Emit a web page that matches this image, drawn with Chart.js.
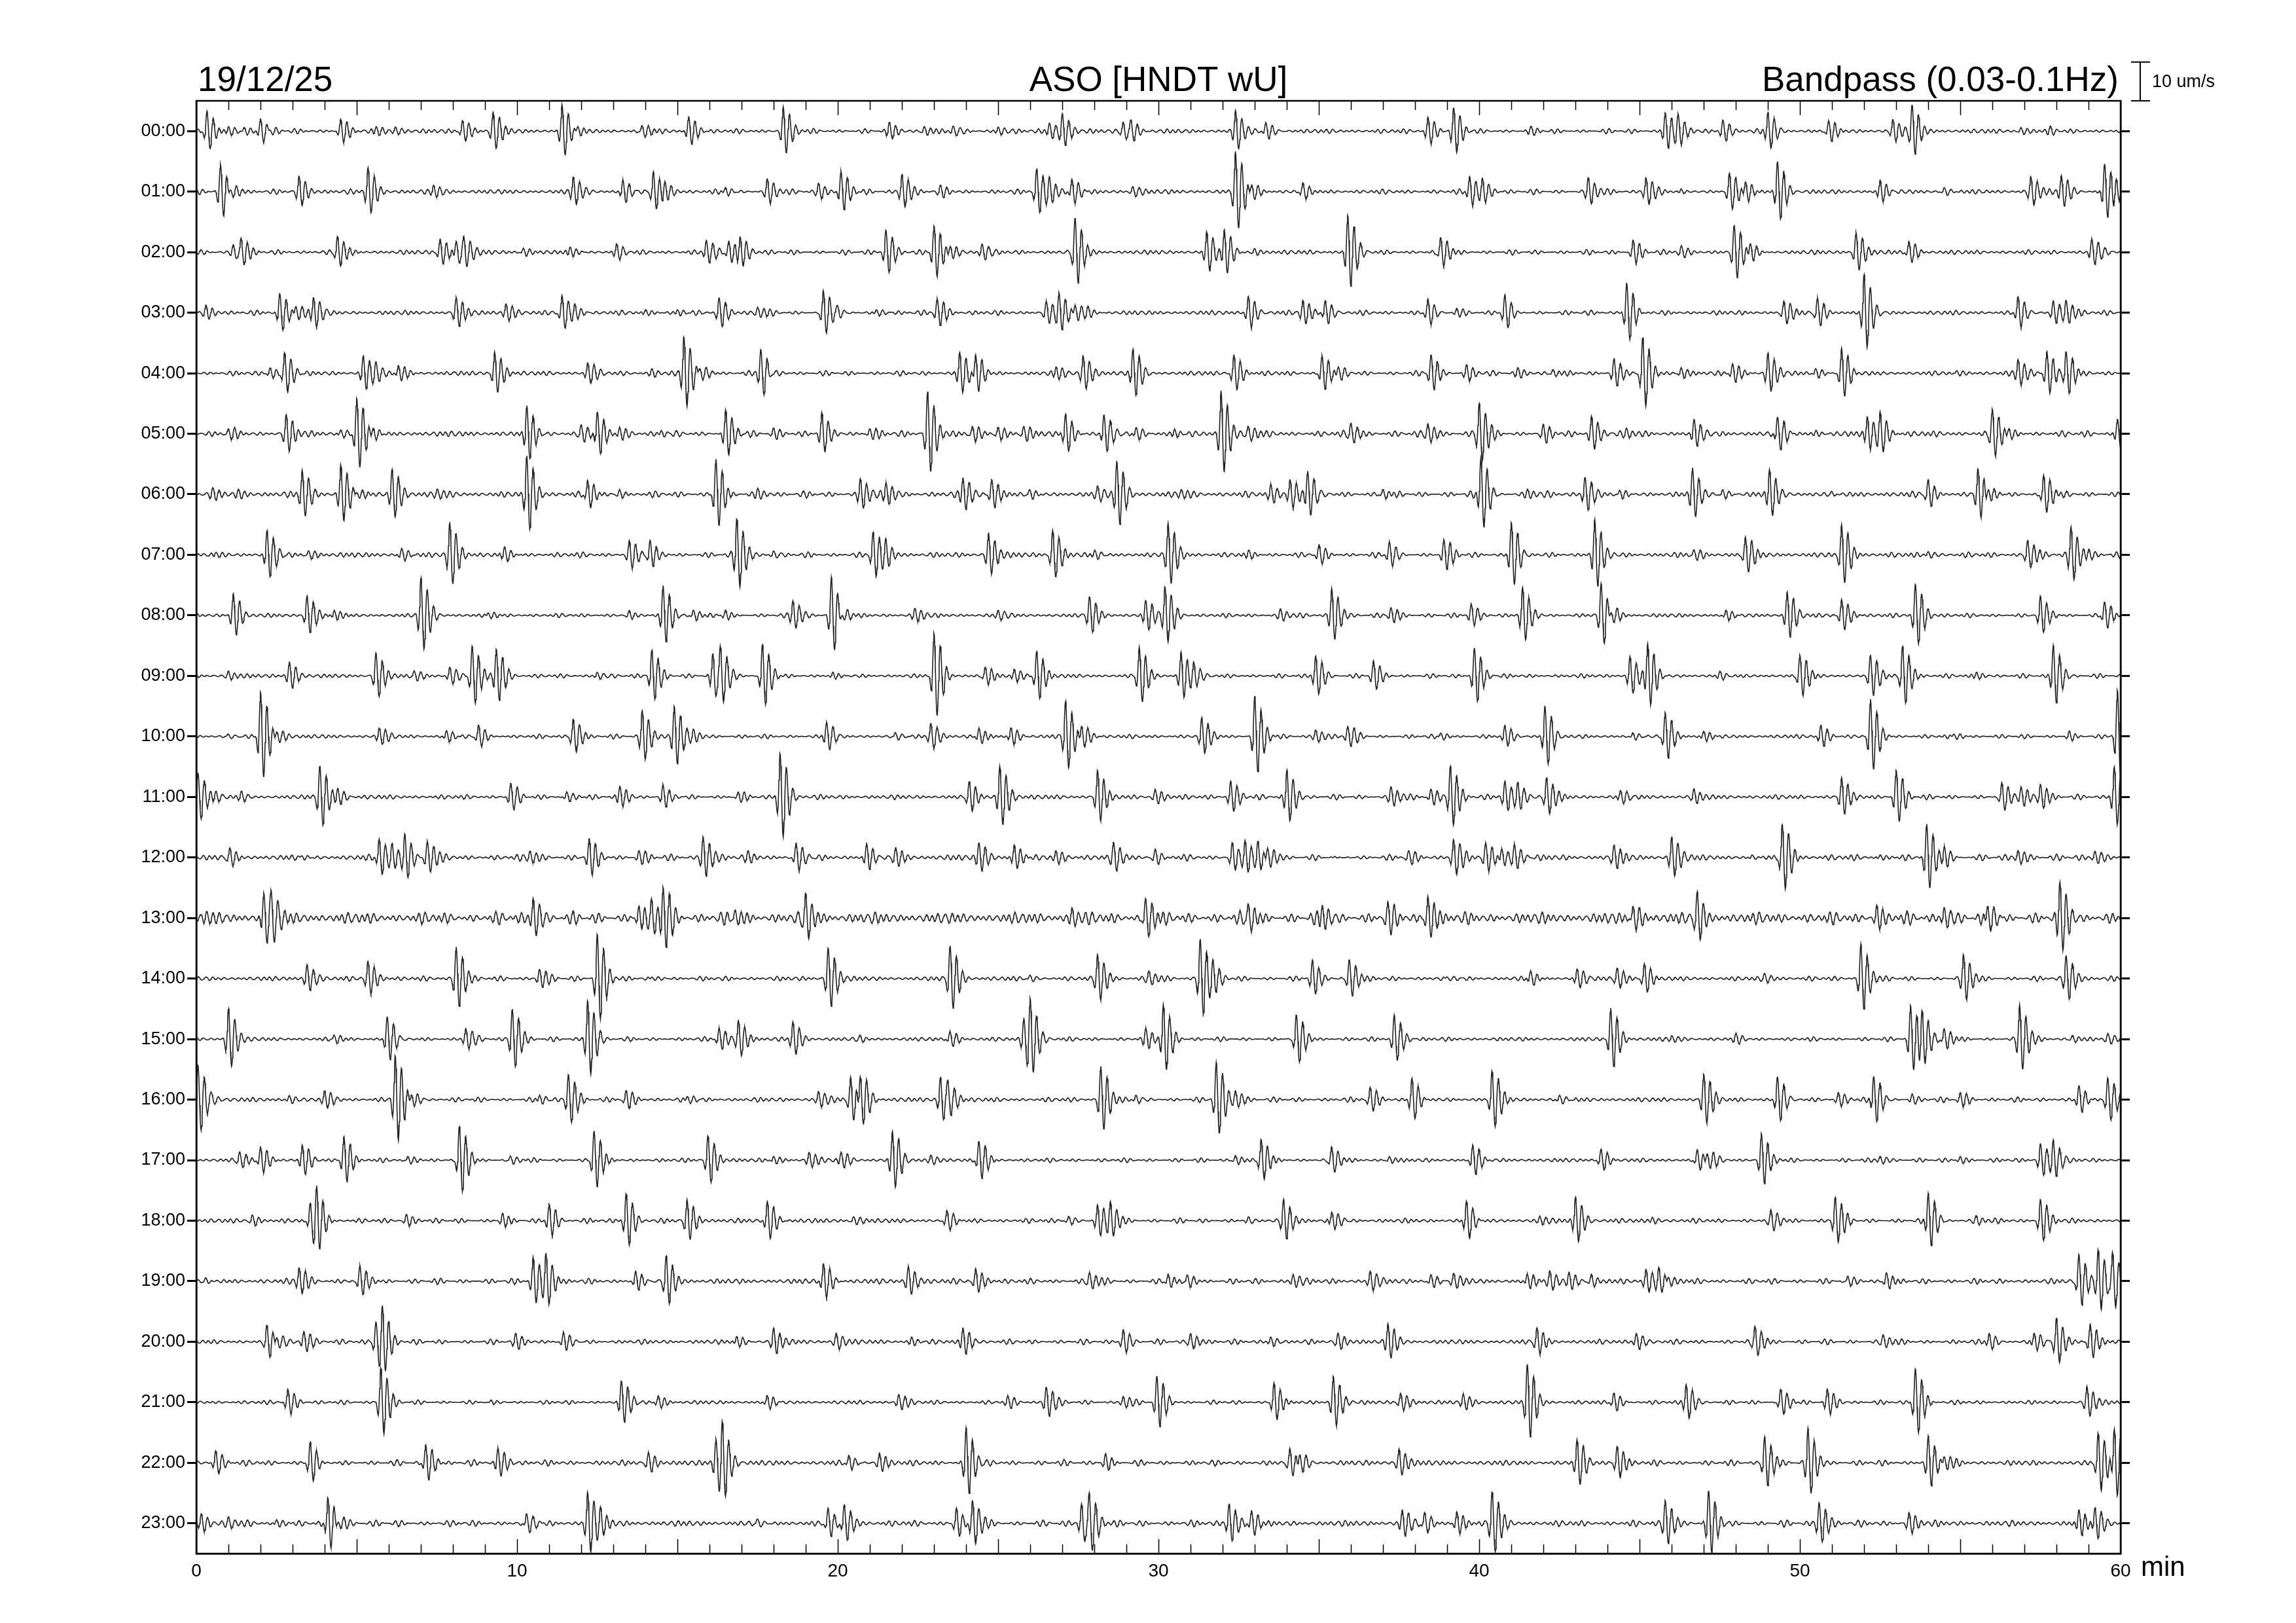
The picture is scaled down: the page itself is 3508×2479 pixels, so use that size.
<!DOCTYPE html>
<html>
<head>
<meta charset="utf-8">
<title>ASO [HNDT wU]</title>
<script src="https://cdn.jsdelivr.net/npm/chart.js@4.4.1/dist/chart.umd.min.js"></script>
<style>
  html, body { margin: 0; padding: 0; background: #fff; }
  canvas { display: block; }
</style>
</head>
<body>
<canvas id="heli" width="3508" height="2479"></canvas>
<script>
// hour rows of the helicorder (top to bottom)
const hourLabels = ['00:00','01:00','02:00','03:00','04:00','05:00','06:00','07:00','08:00','09:00','10:00','11:00',
  '12:00','13:00','14:00','15:00','16:00','17:00','18:00','19:00','20:00','21:00','22:00','23:00'];
const minuteTicks = [0, 10, 20, 30, 40, 50, 60];

// background wiggle level of each row, um/s
const noiseLevel = [0.7,0.7,0.7,0.7,0.7,0.9,0.9,0.8,0.6,0.6,0.6,0.7,0.9,1.8,0.7,0.6,0.7,0.6,0.7,0.8,0.7,0.6,0.8,0.9];

// wave packets: [minute, peak amplitude in um/s]
const h00 = [[0.33,5.1],[1.0,1.2],[1.5,1.0],[2.0,3.2],[2.3,1.5],[4.5,3.1],[5.6,1.2],[6.2,1.1],[8.3,2.9],[9.25,4.6],[11.4,6.6],[11.9,1.5],[13.9,1.5],[15.35,4.0],[18.3,6.3],[21.6,2.2],[22.7,1.2],[23.6,1.2],[25.0,1.0],[26.6,2.0],[27.0,4.1],[28.9,2.4],[29.15,2.8],[32.4,5.3],[33.35,2.4],[38.4,3.5],[39.2,5.9],[41.6,1.0],[45.8,4.8],[46.2,3.5],[47.6,2.8],[49.0,4.6],[50.9,2.6],[52.9,3.2],[53.5,6.5],[56.9,1.0],[57.8,1.0]];
const h01 = [[0.75,7.0],[1.05,3.2],[3.2,3.6],[5.35,6.1],[7.4,1.4],[11.75,4.0],[13.3,3.2],[14.25,4.8],[14.6,2.0],[16.5,1.2],[17.8,3.0],[19.4,1.8],[20.1,5.7],[22.0,4.4],[23.2,1.0],[26.2,5.6],[26.6,2.5],[27.3,3.6],[29.2,1.2],[32.4,10.0],[32.9,2.8],[34.5,2.6],[39.7,4.0],[40.1,3.0],[43.4,3.2],[45.2,3.6],[46.3,1.2],[47.8,4.6],[48.3,3.0],[49.3,8.0],[52.5,3.2],[54.5,1.2],[57.2,3.6],[58.15,4.4],[59.5,7.6],[59.85,2.5]];
const h02 = [[1.15,1.8],[1.4,3.6],[4.4,4.3],[7.6,3.6],[8.1,3.2],[8.35,3.6],[10.2,1.0],[11.65,1.6],[13.1,1.8],[15.9,3.2],[16.6,2.8],[16.95,3.7],[21.5,5.7],[23.0,7.0],[23.5,2.0],[24.5,2.0],[27.4,8.9],[31.5,5.0],[32.05,6.2],[33.0,1.0],[35.9,9.8],[38.8,4.0],[44.8,3.2],[46.3,1.5],[47.95,6.6],[48.45,2.8],[51.75,4.9],[53.4,2.8],[59.1,3.6]];
const h03 = [[0.3,1.6],[2.6,5.3],[3.1,2.0],[3.65,3.8],[8.1,3.6],[9.65,2.4],[11.4,4.7],[11.8,1.5],[14.0,1.0],[15.0,1.0],[16.3,3.6],[17.5,1.3],[19.55,5.9],[20.0,1.8],[21.2,1.0],[23.1,3.6],[26.5,2.5],[26.9,4.6],[27.4,2.8],[27.8,1.2],[32.8,4.4],[34.5,3.0],[35.2,3.2],[38.4,3.6],[39.3,1.0],[40.8,4.6],[44.6,7.6],[49.5,2.8],[50.55,3.6],[52.0,10.3],[56.8,4.4],[57.9,2.8],[58.3,2.6]];
const h04 = [[2.3,1.5],[2.75,5.6],[5.2,4.4],[5.6,1.8],[6.3,2.4],[9.3,5.7],[12.2,2.8],[14.2,1.0],[15.2,9.6],[15.7,2.4],[17.6,6.2],[17.9,2.0],[23.8,5.3],[24.3,5.3],[26.8,1.5],[27.65,4.4],[29.2,6.0],[32.35,4.8],[35.1,4.6],[35.6,1.5],[38.5,4.8],[39.6,2.0],[41.2,1.2],[42.3,1.0],[44.2,3.6],[45.1,9.4],[46.3,1.5],[47.9,2.8],[49.0,5.2],[50.5,1.2],[51.3,6.4],[54.9,1.0],[56.8,3.6],[57.7,5.6],[58.3,5.6]];
const h05 = [[1.0,1.0],[2.8,4.4],[4.5,1.2],[5.0,9.0],[5.5,2.0],[10.3,7.5],[12.0,2.0],[12.5,6.2],[13.2,1.5],[14.5,1.0],[16.5,6.6],[18.0,1.2],[19.5,5.9],[21.0,1.2],[22.8,10.5],[24.2,1.5],[25.0,1.5],[25.8,1.5],[27.1,5.0],[28.3,5.6],[29.3,1.8],[30.5,1.5],[31.95,10.8],[32.8,1.6],[36.0,2.4],[38.4,2.4],[40.0,7.8],[42.0,1.8],[43.5,4.8],[44.6,1.0],[46.7,4.4],[49.3,4.8],[50.5,1.0],[52.1,4.8],[52.5,4.8],[56.0,6.0],[56.5,2.0],[59.9,4.0]];
const h06 = [[0.5,1.2],[1.3,1.0],[3.3,5.8],[4.5,7.5],[5.0,1.5],[6.1,6.4],[7.5,1.2],[10.3,9.4],[12.2,3.6],[13.2,1.2],[16.2,9.0],[17.5,1.2],[20.7,3.8],[21.5,2.6],[23.9,4.0],[24.8,4.0],[26.0,1.2],[28.1,1.6],[28.7,8.0],[30.7,1.2],[33.5,2.0],[34.1,3.6],[34.65,6.2],[37.0,1.2],[40.05,9.4],[41.5,1.0],[43.3,4.4],[44.4,1.2],[46.65,7.1],[47.6,1.2],[49.05,6.8],[51.0,1.0],[54.0,3.6],[55.55,6.4],[55.85,3.5],[57.6,5.3]];
const h07 = [[0.6,1.2],[2.2,6.8],[3.5,1.0],[6.4,1.6],[7.9,8.2],[9.6,2.0],[13.5,3.5],[14.15,4.0],[16.85,9.0],[18.0,1.0],[21.1,6.0],[21.5,2.4],[24.7,5.4],[26.7,6.2],[28.0,1.0],[30.3,8.0],[32.8,1.2],[35.0,2.8],[37.2,3.4],[38.9,3.8],[41.0,8.4],[43.6,9.4],[46.7,1.2],[48.3,4.4],[51.3,7.8],[54.0,1.0],[57.1,3.6],[58.45,6.9],[59.0,1.5]];
const h08 = [[1.15,5.6],[3.45,5.0],[4.3,1.6],[7.0,9.6],[9.1,1.0],[13.5,1.6],[14.55,7.8],[15.5,1.4],[16.5,1.4],[18.6,3.6],[19.8,9.6],[20.1,3.6],[22.4,1.6],[25.0,1.0],[27.85,4.6],[29.6,3.6],[30.2,7.4],[33.8,1.4],[35.4,6.8],[37.25,2.0],[39.75,3.0],[41.35,7.4],[43.8,7.8],[44.1,4.0],[47.7,1.5],[49.6,6.0],[51.3,4.4],[53.6,7.8],[57.5,5.4],[59.5,3.6]];
const h09 = [[1.0,1.2],[2.9,3.6],[5.6,5.8],[6.8,1.2],[7.9,2.4],[8.6,7.5],[9.35,7.0],[12.5,1.0],[14.2,6.6],[16.1,6.0],[16.35,7.0],[17.65,8.6],[19.85,1.2],[23.0,11.0],[24.6,2.0],[25.5,2.0],[26.2,6.2],[29.4,7.1],[30.7,6.2],[31.1,2.4],[34.9,5.2],[36.7,4.0],[39.85,7.4],[44.7,5.2],[45.25,8.6],[47.5,1.0],[50.0,5.4],[52.2,5.5],[53.2,7.6],[55.5,1.0],[57.9,7.9]];
const h10 = [[1.0,0.8],[2.0,11.8],[2.5,2.0],[5.7,2.0],[7.8,1.6],[8.8,3.0],[11.75,4.4],[13.9,6.4],[14.9,7.8],[15.5,1.2],[19.65,3.6],[21.8,1.2],[22.9,3.2],[24.4,2.4],[25.4,2.4],[27.1,8.9],[27.6,3.6],[31.35,4.8],[33.0,10.7],[34.9,1.6],[35.9,2.6],[38.8,1.0],[40.8,3.2],[42.05,7.7],[44.8,1.2],[45.8,6.4],[47.0,1.6],[50.65,2.8],[52.2,10.0],[54.8,1.0],[58.4,1.6],[59.9,12.0]];
const h11 = [[0.05,6.0],[0.6,1.2],[1.4,1.2],[3.85,7.8],[4.4,2.0],[9.8,3.6],[11.55,1.6],[13.2,2.8],[14.55,3.6],[16.9,1.2],[18.2,11.3],[24.1,3.6],[25.05,7.8],[28.1,6.7],[29.9,2.0],[32.25,3.8],[34.0,6.9],[37.25,2.4],[38.5,2.0],[39.1,8.0],[40.8,4.0],[41.2,3.0],[42.1,5.1],[44.4,1.6],[46.7,2.0],[51.3,4.8],[53.0,7.0],[56.3,3.6],[56.9,2.5],[57.5,3.2],[59.8,7.8]];
const h12 = [[1.05,2.0],[3.3,0.8],[5.7,5.0],[6.1,3.0],[6.5,5.5],[7.2,4.0],[10.4,1.6],[12.25,5.0],[13.8,1.5],[15.8,5.3],[17.2,1.0],[18.7,4.4],[20.9,4.0],[21.8,2.0],[24.4,3.6],[25.5,3.6],[26.8,1.5],[28.6,3.3],[29.9,2.4],[32.3,4.2],[32.7,3.8],[33.1,4.0],[33.4,3.5],[35.5,1.0],[37.8,1.2],[39.2,4.6],[40.2,3.2],[40.7,2.5],[41.1,3.2],[44.2,2.6],[46.0,5.0],[48.5,1.0],[49.45,8.9],[52.5,1.0],[53.95,8.5],[54.5,2.8],[56.8,1.8],[59.2,1.6]];
const h13 = [[0.3,2.0],[2.1,6.5],[2.35,5.0],[10.5,5.2],[13.8,3.2],[14.2,4.0],[14.55,7.9],[16.8,2.5],[19.0,6.4],[27.3,2.8],[29.6,5.0],[32.8,3.6],[35.1,3.2],[37.15,2.8],[38.4,5.8],[44.8,3.6],[46.8,6.3],[52.4,3.4],[54.5,2.8],[55.85,4.4],[58.1,9.3]];
const h14 = [[3.45,3.6],[5.35,4.6],[8.1,8.0],[10.7,2.4],[12.5,11.2],[14.2,1.0],[19.7,7.7],[23.5,8.2],[26.0,1.0],[28.1,5.9],[29.7,1.6],[31.3,10.2],[31.7,2.4],[34.8,5.0],[35.95,5.0],[39.0,1.0],[41.6,2.0],[43.05,2.4],[44.3,2.4],[45.15,3.7],[48.9,1.0],[51.9,8.6],[55.1,5.6],[58.3,5.7]];
const h15 = [[1.0,7.7],[4.3,1.0],[5.95,6.0],[8.4,2.8],[9.85,7.8],[12.2,10.0],[16.3,3.0],[16.9,4.8],[18.6,4.2],[20.7,1.0],[23.5,2.0],[25.8,5.0],[26.0,7.3],[29.6,2.4],[30.15,9.0],[34.3,6.6],[37.35,6.4],[44.1,8.2],[46.0,1.0],[48.0,1.0],[53.45,8.5],[53.8,7.0],[54.5,2.8],[56.85,8.5],[58.5,1.0],[59.6,1.2]];
const h16 = [[0.05,9.0],[0.5,1.2],[2.9,1.2],[4.0,2.0],[6.2,11.3],[6.7,2.4],[10.7,1.2],[11.6,6.5],[13.4,2.0],[15.3,1.2],[19.4,2.0],[20.4,5.6],[20.7,8.5],[23.2,5.6],[23.45,4.0],[28.2,8.4],[29.3,1.2],[31.8,9.3],[32.4,2.0],[36.6,2.8],[37.9,5.5],[40.4,7.3],[42.5,1.2],[47.0,6.5],[49.3,6.1],[51.2,1.6],[52.3,6.3],[53.5,1.6],[55.0,1.6],[58.7,3.6],[59.6,5.6]];
const h17 = [[1.35,1.8],[2.0,3.6],[3.3,3.6],[4.6,6.1],[6.6,1.2],[8.2,9.2],[9.8,1.2],[12.4,7.7],[15.95,6.1],[18.0,1.2],[19.1,2.0],[20.1,2.0],[21.7,7.3],[22.9,1.2],[24.4,5.3],[32.4,1.2],[33.2,5.5],[35.4,3.6],[37.2,1.0],[39.8,4.1],[43.8,2.8],[46.8,2.9],[47.1,2.9],[48.8,7.0],[52.5,1.0],[55.0,1.0],[57.5,4.2],[57.9,4.2]];
const h18 = [[1.75,1.6],[3.55,5.0],[3.75,5.8],[6.55,1.8],[9.55,2.0],[11.0,4.3],[13.4,7.0],[15.3,5.0],[17.8,5.2],[20.5,1.0],[23.4,2.8],[27.2,1.2],[28.1,3.9],[28.5,3.9],[32.8,1.2],[33.9,5.2],[35.4,2.8],[39.6,5.0],[41.9,1.0],[43.0,6.2],[45.4,1.0],[49.1,2.4],[51.1,6.0],[54.0,7.3],[55.5,1.0],[57.5,5.4]];
const h19 = [[0.3,1.2],[3.2,3.6],[5.1,4.6],[10.5,6.4],[10.9,6.0],[13.7,2.8],[14.65,6.0],[19.55,4.7],[22.2,3.6],[24.3,3.5],[27.85,2.0],[30.3,1.8],[30.9,1.8],[34.2,1.6],[36.6,2.4],[38.5,1.8],[39.2,1.8],[41.5,2.2],[42.2,2.2],[42.8,2.0],[43.5,2.0],[45.2,2.8],[45.6,3.0],[45.9,2.6],[51.5,1.8],[52.7,2.2],[58.7,7.0],[59.3,8.1],[59.75,7.3]];
const h20 = [[2.2,4.2],[2.5,3.0],[3.35,2.7],[5.6,5.0],[5.8,5.9],[9.95,1.8],[11.45,2.9],[16.85,1.6],[18.0,3.3],[19.95,2.0],[22.3,1.2],[23.9,3.7],[28.9,3.1],[31.0,2.0],[33.5,1.2],[35.6,2.0],[37.15,4.4],[41.8,3.2],[44.9,2.3],[48.6,3.7],[52.6,1.6],[55.9,2.0],[57.3,2.4],[58.0,5.7],[59.05,4.7]];
const h21 = [[2.85,3.4],[5.75,9.0],[9.2,1.0],[13.25,6.0],[14.4,1.8],[17.8,2.0],[21.9,2.0],[25.3,1.2],[26.5,4.0],[28.9,1.5],[29.95,6.7],[33.6,5.1],[35.45,6.9],[37.55,2.4],[39.5,2.0],[41.5,9.5],[44.2,2.4],[46.45,4.7],[49.4,3.6],[50.85,3.6],[53.6,8.7],[58.95,4.0]];
const h22 = [[0.6,3.1],[3.55,5.4],[7.15,5.0],[9.4,4.0],[14.1,2.4],[16.2,6.0],[16.4,7.0],[20.35,2.0],[21.3,2.4],[24.0,9.0],[28.35,2.4],[34.1,3.2],[34.4,3.2],[37.5,3.6],[43.05,5.4],[44.3,4.1],[48.9,6.6],[50.25,8.1],[54.0,7.0],[54.5,2.4],[59.3,8.0],[59.8,9.6]];
const h23 = [[0.15,2.4],[1.0,1.2],[2.5,1.2],[4.1,7.3],[4.4,3.0],[10.3,3.2],[12.2,8.0],[12.6,2.0],[17.5,1.5],[19.7,4.0],[20.2,4.6],[23.7,4.0],[24.2,5.8],[27.6,5.0],[27.85,7.2],[32.2,4.9],[32.9,3.5],[37.6,3.2],[38.3,3.2],[39.3,3.2],[40.4,7.9],[45.8,5.7],[47.15,8.5],[50.6,5.3],[53.4,2.4],[58.7,4.0],[59.2,4.0]];

const hourBursts = [h00,h01,h02,h03,h04,h05,h06,h07,h08,h09,h10,h11,h12,h13,h14,h15,h16,h17,h18,h19,h20,h21,h22,h23];

const umPerTrace = 15.6;   // um/s between two neighbouring rows
const scaleBarUm = 10;
const period = 0.2;        // minutes, dominant period of the bandpassed signal
const dt = 0.015;

function wiggle(t, h) {
  const tau = 2 * Math.PI;
  const mod = 0.7 + 0.3 * Math.sin(tau * t / 2.3 + h);
  return mod * (0.5 * Math.sin(tau * t / 0.2 + h * 1.7) +
                0.3 * Math.sin(tau * t / 0.27 + h * 2.3) +
                0.25 * Math.sin(tau * t / 0.16 + h * 0.9));
}

function buildTrace(bursts, h) {
  const pts = [];
  const n = Math.round(60 / dt);
  for (let k = 0; k <= n; k++) {
    const t = k * dt;
    let v = noiseLevel[h] * wiggle(t, h);
    for (const [t0, a] of bursts) {
      const d = t - t0;
      if (d < -0.4 || d > 1.4) continue;
      const w = d < 0 ? 0.09 : 0.32;
      v += a * Math.exp(-(d / w) * (d / w)) * Math.cos(2 * Math.PI * d / period);
    }
    pts.push({ x: t, y: -h + v / umPerTrace });
  }
  return pts;
}

const datasets = hourBursts.map((b, h) => ({
  label: hourLabels[h],
  data: buildTrace(b, h),
  borderColor: '#222',
  borderWidth: 1.6,
  pointRadius: 0,
  fill: false,
  tension: 0
}));

const FONT = '"Liberation Sans", Arial, Helvetica, sans-serif';
Chart.defaults.font.family = FONT;
Chart.defaults.color = '#000';

const rowTicks = (scale) => { scale.ticks = hourLabels.map((_, i) => ({ value: -i })); };

// frame, inward minute ticks, header texts and the amplitude bar
const heliDecor = {
  id: 'heliDecor',
  afterDraw(chart) {
    const { ctx, chartArea: a, scales: { x, y } } = chart;
    ctx.save();
    ctx.strokeStyle = '#000';
    ctx.lineWidth = 2.5;
    ctx.strokeRect(a.left, a.top, a.right - a.left, a.bottom - a.top);

    ctx.lineWidth = 1.5;
    ctx.beginPath();
    for (let m = 1; m < 60; m++) {
      const px = Math.round(x.getPixelForValue(m)) + 0.5;
      const len = m % 5 === 0 ? 22 : 14;
      ctx.moveTo(px, a.top); ctx.lineTo(px, a.top + len);
      ctx.moveTo(px, a.bottom); ctx.lineTo(px, a.bottom - len);
    }
    ctx.stroke();

    ctx.fillStyle = '#000';
    ctx.font = '53px ' + FONT;
    ctx.textBaseline = 'alphabetic';
    ctx.textAlign = 'left';
    ctx.fillText('19/12/25', a.left + 2, 139);
    ctx.textAlign = 'center';
    ctx.fillText('ASO [HNDT wU]', (a.left + a.right) / 2, 139);
    ctx.textAlign = 'right';
    ctx.fillText('Bandpass (0.03-0.1Hz)', a.right - 3, 139);

    // 10 um/s bar measured on the y scale
    const barLen = y.getPixelForValue(0) - y.getPixelForValue(scaleBarUm / umPerTrace);
    const bx = a.right + 30, bBot = a.top, bTop = a.top - barLen;
    ctx.lineWidth = 2;
    ctx.beginPath();
    ctx.moveTo(bx, bTop); ctx.lineTo(bx, bBot);
    ctx.moveTo(bx - 14, bTop); ctx.lineTo(bx + 15, bTop);
    ctx.moveTo(bx - 14, bBot); ctx.lineTo(bx + 15, bBot);
    ctx.stroke();
    ctx.font = '27px ' + FONT;
    ctx.textAlign = 'left';
    ctx.textBaseline = 'middle';
    ctx.fillText(scaleBarUm + ' um/s', bx + 18, (bTop + bBot) / 2 + 1);

    ctx.font = '42px ' + FONT;
    ctx.textBaseline = 'alphabetic';
    ctx.fillText('min', a.right + 31, a.bottom + 34);
    ctx.restore();
  }
};

new Chart(document.getElementById('heli'), {
  type: 'line',
  data: { datasets },
  options: {
    responsive: false,
    animation: false,
    parsing: false,
    events: [],
    layout: { padding: { top: 154, left: 0, right: 0, bottom: 0 } },
    plugins: { legend: { display: false }, tooltip: { enabled: false }, title: { display: false } },
    scales: {
      x: {
        type: 'linear',
        min: 0,
        max: 60,
        grid: { display: false },
        border: { display: true, color: '#000', width: 2.5 },
        afterBuildTicks: (scale) => { scale.ticks = minuteTicks.map(v => ({ value: v })); },
        ticks: { font: { size: 28 }, padding: 2, maxRotation: 0 },
        afterFit: (scale) => { scale.height = 106; }
      },
      y: {
        type: 'linear',
        position: 'left',
        min: -23.5,
        max: 0.5,
        grid: { drawOnChartArea: false, drawTicks: true, tickLength: 14, tickWidth: 3, tickColor: '#000' },
        border: { display: true, color: '#000', width: 2.5 },
        afterBuildTicks: rowTicks,
        ticks: { font: { size: 27 }, padding: 3, callback: (v) => hourLabels[Math.round(-v)] },
        afterFit: (scale) => { scale.width = 300; }
      },
      y2: {
        type: 'linear',
        position: 'right',
        min: -23.5,
        max: 0.5,
        grid: { drawOnChartArea: false, drawTicks: true, tickLength: 14, tickWidth: 3, tickColor: '#000' },
        border: { display: true, color: '#000', width: 2.5 },
        afterBuildTicks: rowTicks,
        ticks: { display: false },
        afterFit: (scale) => { scale.width = 268; }
      }
    }
  },
  plugins: [heliDecor]
});
</script>
</body>
</html>
